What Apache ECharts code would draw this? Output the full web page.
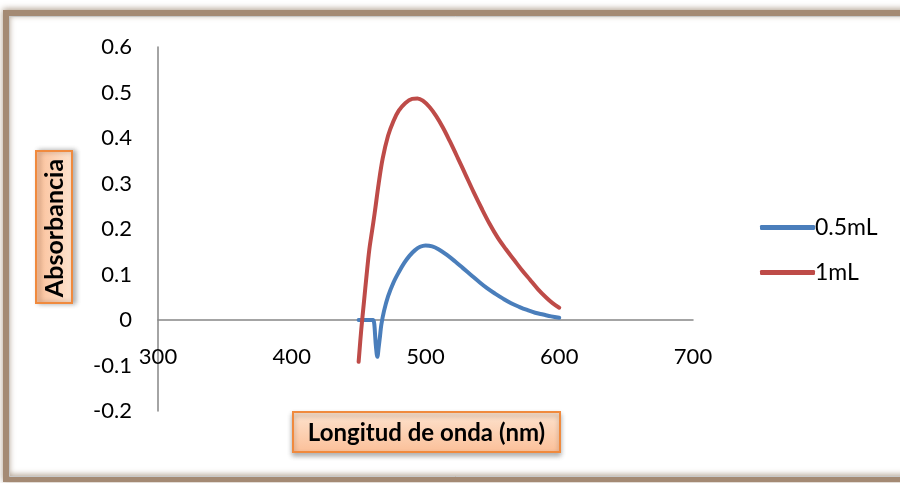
<!DOCTYPE html>
<html>
<head>
<meta charset="utf-8">
<script src="https://cdn.jsdelivr.net/npm/echarts@6/dist/echarts.min.js"></script>
<style>html,body{margin:0;padding:0;background:#fff}#c{width:900px;height:483px}</style>
</head>
<body>
<div id="c"></div>
<script>
const xTicks = [300, 400, 500, 600, 700];
const yTicks = [-0.2, -0.1, 0, 0.1, 0.2, 0.3, 0.4, 0.5, 0.6];
const seriesNames = ['0.5mL', '1mL'];

const wl05 = [450, 455, 460, 461, 463, 464, 465, 466, 467, 469, 472, 476, 480, 484, 488, 492, 496, 500, 505, 510, 516, 522, 528, 534, 540, 546, 552, 558, 564, 570, 576, 582, 588, 594, 600];
const abs05 = [0, 0, 0, 0, -0.06, -0.081, -0.06, -0.035, -0.01, 0.02, 0.052, 0.082, 0.105, 0.125, 0.141, 0.153, 0.161, 0.164, 0.162, 0.155, 0.143, 0.129, 0.114, 0.099, 0.084, 0.07, 0.058, 0.047, 0.037, 0.029, 0.022, 0.016, 0.012, 0.008, 0.005];

const wl1 = [450, 452, 454, 456, 458, 460, 462, 465, 468, 472, 476, 480, 485, 490, 494, 498, 503, 508, 513, 518, 524, 530, 536, 542, 548, 554, 560, 566, 572, 578, 584, 590, 595, 600];
const abs1 = [-0.092, -0.02, 0.04, 0.1, 0.155, 0.195, 0.235, 0.3, 0.355, 0.405, 0.437, 0.46, 0.477, 0.486, 0.487, 0.482, 0.468, 0.448, 0.423, 0.394, 0.357, 0.319, 0.281, 0.245, 0.211, 0.181, 0.156, 0.133, 0.11, 0.089, 0.068, 0.05, 0.037, 0.027];

const pairs = (xs, ys) => xs.map((x, i) => [x, ys[i]]);
const FONT = 'Lato';

const chart = echarts.init(document.getElementById('c'), null, {renderer: 'canvas'});
chart.setOption({
  animation: false,
  backgroundColor: '#fff',
  grid: {left: 158, right: 207, top: 47, bottom: 72, containLabel: false},
  xAxis: {
    type: 'value', min: 300, max: 700, interval: 100,
    offset: -91,
    axisLine: {show: true, onZero: false, lineStyle: {color: '#868686', width: 1.5}},
    axisTick: {show: false},
    splitLine: {show: false},
    axisLabel: {margin: 26, fontFamily: FONT, fontSize: 22, color: '#000',
      formatter: v => xTicks.includes(v) ? String(v) : ''}
  },
  yAxis: {
    type: 'value', min: -0.2, max: 0.6, interval: 0.1,
    axisLine: {show: true, onZero: false, lineStyle: {color: '#868686', width: 1.5}},
    axisTick: {show: false},
    splitLine: {show: false},
    axisLabel: {margin: 26, fontFamily: FONT, fontSize: 22, color: '#000',
      formatter: v => {
        const t = yTicks.find(k => Math.abs(k - v) < 1e-9);
        return t === undefined ? '' : String(t);
      }}
  },
  legend: {
    orient: 'vertical', left: 755, top: 211,
    icon: 'roundRect', itemWidth: 55, itemHeight: 5, itemGap: 22,
    textStyle: {fontFamily: FONT, fontSize: 23, color: '#000', padding: [0, 0, 0, -5]},
    data: seriesNames
  },
  series: [
    {name: seriesNames[0], type: 'line', data: pairs(wl05, abs05), showSymbol: false, symbol: 'none',
      smooth: 0.35, lineStyle: {color: '#4a7ebb', width: 4, cap: 'round', join: 'round'}, itemStyle: {color: '#4a7ebb'}},
    {name: seriesNames[1], type: 'line', data: pairs(wl1, abs1), showSymbol: false, symbol: 'none',
      smooth: 0.35, lineStyle: {color: '#be4b48', width: 4, cap: 'round', join: 'round'}, itemStyle: {color: '#be4b48'}}
  ],
  graphic: [
    {type: 'rect', z: 100, silent: true,
      shape: {x: 6, y: 13, width: 910, height: 466},
      style: {fill: null, stroke: '#a48a74', lineWidth: 6, shadowBlur: 6, shadowColor: 'rgba(110,80,50,0.6)', shadowOffsetY: -1}},
    {type: 'rect', z: 101, silent: true,
      shape: {x: 9.5, y: 16.5, width: 910, height: 460},
      style: {fill: null, stroke: '#c8c8c8', lineWidth: 1}},
    {type: 'group', z: 50, children: [
      {type: 'rect', shape: {x: 293, y: 412, width: 267, height: 40},
        style: {fill: new echarts.graphic.LinearGradient(0, 0, 0, 1, [{offset: 0, color: '#fde4d0'}, {offset: 1, color: '#fbbf98'}]),
          stroke: '#f08a3e', lineWidth: 2, shadowBlur: 5, shadowOffsetY: 3, shadowColor: 'rgba(0,0,0,0.3)'}},
      {type: 'text', x: 426.5, y: 433, style: {text: 'Longitud de onda (nm)', fontFamily: FONT, fontWeight: 'bold', fontSize: 24,
        fill: '#000', align: 'center', verticalAlign: 'middle'}}
    ]},
    {type: 'group', z: 50, children: [
      {type: 'rect', shape: {x: 36, y: 151, width: 36, height: 152},
        style: {fill: new echarts.graphic.LinearGradient(1, 0, 0, 0, [{offset: 0, color: '#fde4d0'}, {offset: 1, color: '#fbbf98'}]),
          stroke: '#f08a3e', lineWidth: 2, shadowBlur: 5, shadowOffsetX: 3, shadowColor: 'rgba(0,0,0,0.3)'}},
      {type: 'text', x: 55, y: 228, rotation: Math.PI / 2, style: {text: 'Absorbancia', fontFamily: FONT, fontWeight: 'bold', fontSize: 25,
        fill: '#000', align: 'center', verticalAlign: 'middle'}}
    ]}
  ]
});
</script>
</body>
</html>
